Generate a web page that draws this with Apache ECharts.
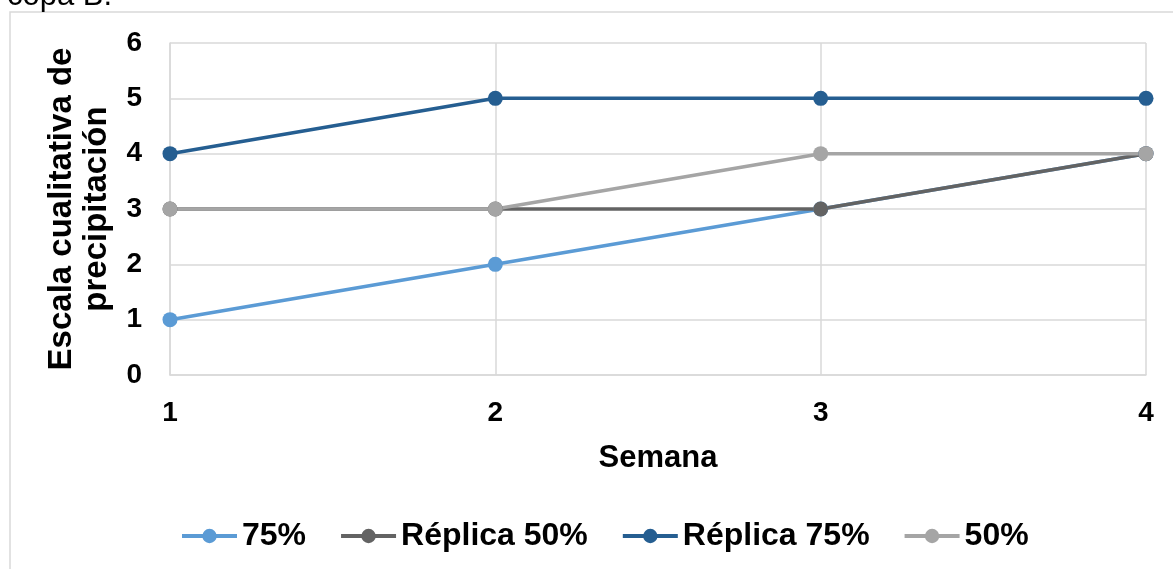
<!DOCTYPE html>
<html>
<head>
<meta charset="utf-8">
<script src="https://cdn.jsdelivr.net/npm/echarts@6/dist/echarts.min.js"></script>
<style>
  html, body { margin: 0; padding: 0; background: #ffffff; }
  #chart { width: 1173px; height: 569px; }
</style>
</head>
<body>
<div id="chart"></div>
<script>
// Weekly qualitative precipitation scale per treatment
const weeks = ['1', '2', '3', '4'];
const serie75 = [1, 2, 3, 4];
const replica50 = [3, 3, 3, 4];
const replica75 = [4, 5, 5, 5];
const serie50 = [3, 3, 4, 4];

const FONT = '"Liberation Sans", Arial, sans-serif';
const GRID_COLOR = '#d9d9d9';

function lineSeries(name, data, color) {
  return {
    name: name,
    type: 'line',
    data: data,
    symbol: 'circle',
    symbolSize: 15,
    lineStyle: { width: 3.5, color: color },
    itemStyle: { color: color },
    emphasis: { disabled: true },
    animation: false
  };
}

const chart = echarts.init(document.getElementById('chart'), null, { renderer: 'canvas' });
chart.setOption({
  backgroundColor: '#ffffff',
  animation: false,
  textStyle: { fontFamily: FONT },
  graphic: [
    {
      type: 'rect',
      shape: { x: 10, y: 12, width: 1200, height: 600 },
      style: { fill: 'none', stroke: GRID_COLOR, lineWidth: 1.5 },
      z: -10
    },
    {
      type: 'text',
      left: 7,
      top: -19,
      style: { text: 'copa B.', font: '31px ' + FONT, fill: '#000000' }
    }
  ],
  legend: {
    left: 175,
    top: 515,
    itemWidth: 55,
    itemHeight: 18,
    itemGap: 33,
    lineStyle: { width: 4 },
    textStyle: { fontSize: 32, fontWeight: 'bold', color: '#000000' },
    data: ['75%', 'Réplica 50%', 'Réplica 75%', '50%']
  },
  grid: { left: 170, right: 27, top: 43, bottom: 194, containLabel: false },
  xAxis: {
    type: 'category',
    data: weeks,
    boundaryGap: false,
    name: 'Semana',
    nameLocation: 'middle',
    nameGap: 68,
    nameTextStyle: { fontSize: 31, fontWeight: 'bold', color: '#000000' },
    axisLine: { show: true, lineStyle: { color: GRID_COLOR, width: 1.5 } },
    axisTick: { show: false },
    axisLabel: { fontSize: 28, fontWeight: 'bold', color: '#000000', margin: 24 },
    splitLine: { show: true, lineStyle: { color: GRID_COLOR, width: 1.5 } }
  },
  yAxis: {
    type: 'value',
    min: 0,
    max: 6,
    interval: 1,
    name: 'Escala cualitativa de\nprecipitación',
    nameLocation: 'middle',
    nameGap: 56,
    nameTextStyle: { fontSize: 33, fontWeight: 'bold', color: '#000000', lineHeight: 35 },
    axisLine: { show: true, lineStyle: { color: GRID_COLOR, width: 1.5 } },
    axisTick: { show: false },
    axisLabel: { fontSize: 28, fontWeight: 'bold', color: '#000000', margin: 28 },
    splitLine: { show: true, lineStyle: { color: GRID_COLOR, width: 1.5 } }
  },
  series: [
    lineSeries('75%', serie75, '#5b9bd5'),
    lineSeries('Réplica 50%', replica50, '#636363'),
    lineSeries('Réplica 75%', replica75, '#255e91'),
    lineSeries('50%', serie50, '#a5a5a5')
  ]
});
</script>
</body>
</html>
